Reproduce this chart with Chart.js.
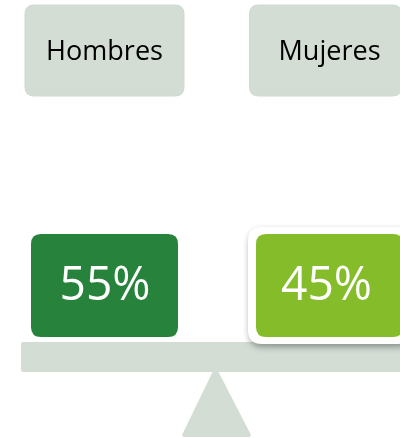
<!DOCTYPE html>
<html>
<head>
<meta charset="utf-8">
<script src="https://cdn.jsdelivr.net/npm/chart.js@4"></script>
<style>
  html, body { margin: 0; padding: 0; background: #ffffff; }
  #wrap { width: 400px; height: 438px; }
</style>
</head>
<body>
<div id="wrap"><canvas id="c" width="400" height="438"></canvas></div>
<script>
// ---- data ----
const categories = ['Hombres', 'Mujeres'];
const values = [55, 45];
const valueLabels = values.map(v => v + '%');

// ---- styles ----
const labelBoxColor = '#D3DDD4';
const labelBoxBorder = '#CED9CF';
const valueColors = ['#27823B', '#84BD29'];
const beamColor = '#D3DDD4';
const fontFamily = '"Open Sans", "Noto Sans", sans-serif';

function rr(ctx, x, y, w, h, r) {
  ctx.beginPath();
  ctx.moveTo(x + r, y);
  ctx.lineTo(x + w - r, y);
  ctx.quadraticCurveTo(x + w, y, x + w, y + r);
  ctx.lineTo(x + w, y + h - r);
  ctx.quadraticCurveTo(x + w, y + h, x + w - r, y + h);
  ctx.lineTo(x + r, y + h);
  ctx.quadraticCurveTo(x, y + h, x, y + h - r);
  ctx.lineTo(x, y + r);
  ctx.quadraticCurveTo(x, y, x + r, y);
  ctx.closePath();
}

function fitText(ctx, text, cx, baseline, sx) {
  const w = ctx.measureText(text).width;
  ctx.save();
  ctx.translate(cx, baseline);
  ctx.scale(sx, 1);
  ctx.fillText(text, -w / 2, 0);
  ctx.restore();
}

const balancePlugin = {
  id: 'balance',
  beforeDatasetsDraw(chart) {
    const ctx = chart.ctx;
    const xs = chart.scales.x;
    const top = chart.chartArea.top;
    const centers = categories.map((_, i) => xs.getPixelForValue(i));

    // geometry (layout only)
    const labelBoxes = [{ l: -79.5, r: 79.5 }, { l: -76, r: 76 }];
    const labelTextDx = [0, 4];
    const valueBoxDx = [0, 4];
    const valueHalfW = 73.5;

    ctx.save();

    // top category boxes
    categories.forEach((cat, i) => {
      const c = centers[i];
      const b = labelBoxes[i];
      rr(ctx, c + b.l, top + 5, b.r - b.l, 91, 9);
      ctx.fillStyle = labelBoxColor;
      ctx.fill();
      ctx.lineWidth = 1;
      ctx.strokeStyle = labelBoxBorder;
      ctx.stroke();
    });

    // category text
    ctx.fillStyle = '#000000';
    ctx.font = '27px ' + fontFamily;
    const wH = ctx.measureText(categories[0]).width;
    const sxLabel = 117 / wH;
    categories.forEach((cat, i) => {
      fitText(ctx, cat, centers[i] + labelTextDx[i], top + 60, sxLabel);
    });

    // beam
    rr(ctx, 21, top + 342, 400, 30, 2);
    ctx.fillStyle = beamColor;
    ctx.fill();

    // fulcrum
    const fx = (centers[0] + centers[1]) / 2 + 0.5;
    ctx.beginPath();
    ctx.moveTo(fx - 2, top + 370);
    ctx.lineTo(fx + 2, top + 370);
    ctx.lineTo(fx + 35, top + 434);
    ctx.quadraticCurveTo(fx + 36, top + 437, fx + 33, top + 437);
    ctx.lineTo(fx - 31, top + 437);
    ctx.quadraticCurveTo(fx - 34, top + 437, fx - 33, top + 434);
    ctx.closePath();
    ctx.fillStyle = beamColor;
    ctx.fill();

    // value boxes
    values.forEach((v, i) => {
      const c = centers[i] + valueBoxDx[i];
      const x0 = c - valueHalfW, y0 = top + 234, w = valueHalfW * 2, h = 103;
      ctx.save();
      if (i === 1) {
        ctx.shadowColor = 'rgba(0,0,0,0.35)';
        ctx.shadowBlur = 6;
        ctx.shadowOffsetX = 1;
        ctx.shadowOffsetY = 3;
        rr(ctx, x0 - 8, y0 - 7, w + 16, h + 14, 14);
      } else {
        rr(ctx, x0 - 2.5, y0 - 2.5, w + 5, h + 5, 11);
      }
      ctx.fillStyle = '#ffffff';
      ctx.fill();
      ctx.restore();
      rr(ctx, x0, y0, w, h, 10);
      ctx.fillStyle = valueColors[i];
      ctx.fill();
    });

    // value text
    ctx.fillStyle = '#ffffff';
    ctx.font = '47px ' + fontFamily;
    const wV = ctx.measureText(valueLabels[0]).width;
    const sxVal = 91 / wV;
    valueLabels.forEach((t, i) => {
      fitText(ctx, t, centers[i] + (i === 0 ? 0.5 : 1), top + 300, sxVal);
    });

    ctx.restore();
  }
};

new Chart(document.getElementById('c'), {
  type: 'scatter',
  data: {
    datasets: [{
      label: 'Porcentaje',
      data: values.map((v, i) => ({ x: i, y: v })),
      pointRadius: 0,
      pointHoverRadius: 0
    }]
  },
  options: {
    responsive: false,
    animation: false,
    events: [],
    layout: { padding: 0 },
    plugins: { legend: { display: false }, tooltip: { enabled: false } },
    scales: {
      x: { type: 'linear', display: false, min: -0.4729, max: 1.3371 },
      y: { type: 'linear', display: false, min: 0, max: 100 }
    }
  },
  plugins: [balancePlugin]
});
</script>
</body>
</html>
